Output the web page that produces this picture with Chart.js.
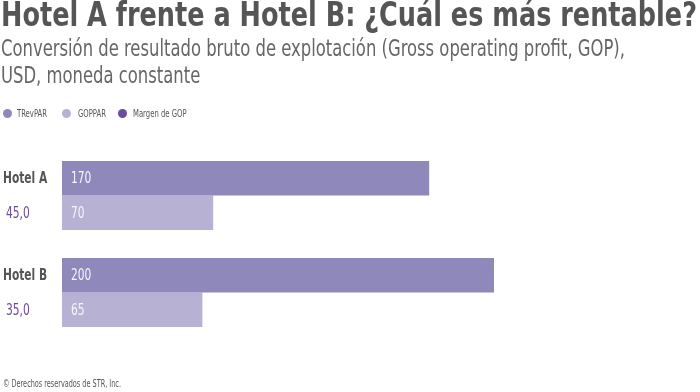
<!DOCTYPE html>
<html>
<head>
<meta charset="utf-8">
<script src="https://cdn.jsdelivr.net/npm/chart.js@4"></script>
<style>
  body { margin: 0; background: #fff; font-family: "DejaVu Sans Condensed", sans-serif; }
  #wrap { position: relative; width: 700px; height: 392px; overflow: hidden; }
  .txt { position: absolute; white-space: nowrap; transform-origin: 0 0; }
  #title { left: 1px; top: -6px; font-size: 34px; font-weight: bold; color: #555; }
  .sub { left: 1px; font-size: 23px; color: #666; }
  #sub1 { top: 35px; }
  #sub2 { top: 62px; }
  .leg { top: 108px; font-size: 10px; color: #555; }
  .dot { position: absolute; top: 109px; width: 9px; height: 9px; border-radius: 50%; }
  #foot { left: 3px; top: 378px; font-size: 10px; color: #555; }
  canvas { position: absolute; left: 0; top: 0; }
</style>
</head>
<body>
<div id="wrap">
  <canvas id="hotelChart" width="700" height="392"></canvas>
  <div id="title" class="txt" data-w="696">Hotel A frente a Hotel B: ¿Cuál es más rentable?</div>
  <div id="sub1" class="txt sub" data-w="624">Conversión de resultado bruto de explotación (Gross operating profit, GOP),</div>
  <div id="sub2" class="txt sub" data-s="sub1">USD, moneda constante</div>
  <div class="dot" style="left:3px;background:#8f88ba"></div>
  <div id="leg1" class="txt leg" style="left:17px" data-w="30">TRevPAR</div>
  <div class="dot" style="left:62px;background:#b7b2d3"></div>
  <div id="leg2" class="txt leg" style="left:78px" data-s="leg1">GOPPAR</div>
  <div class="dot" style="left:118px;background:#6b4c9a"></div>
  <div id="leg3" class="txt leg" style="left:133px" data-s="leg1">Margen de GOP</div>
  <div id="foot" class="txt" data-w="118">© Derechos reservados de STR, Inc.</div>
</div>
<script>
  var hotels = ['Hotel A', 'Hotel B'];
  var trevpar = [170, 200];
  var goppar = [70, 65];
  var margen = ['45,0', '35,0'];

  var fontFam = '"DejaVu Sans Condensed", sans-serif';
  var squeeze = 0.74;

  // squeeze the html texts to the narrow look of the original
  var scales = {};
  document.querySelectorAll('.txt').forEach(function(el) {
    var s;
    if (el.dataset.w) {
      s = el.dataset.w / el.getBoundingClientRect().width;
    } else {
      s = scales[el.dataset.s];
    }
    scales[el.id] = s;
    el.style.transform = 'scaleX(' + s + ')';
  });

  function narrowText(ctx, text, x, y) {
    ctx.save();
    ctx.translate(x, y);
    ctx.scale(squeeze, 1);
    ctx.fillText(text, 0, 0);
    ctx.restore();
  }

  // labels inside the bars and the hotel / margin text on the left
  var labelsPlugin = {
    id: 'labels',
    afterDatasetsDraw: function(chart) {
      var ctx = chart.ctx;
      ctx.save();
      ctx.textBaseline = 'middle';
      ctx.textAlign = 'left';
      chart.data.datasets.forEach(function(ds, i) {
        chart.getDatasetMeta(i).data.forEach(function(bar, j) {
          ctx.font = '16px ' + fontFam;
          ctx.fillStyle = '#f6f4fb';
          narrowText(ctx, ds.data[j], bar.base + 9, bar.y + 1);
          if (i === 0) {
            ctx.font = 'bold 16px ' + fontFam;
            ctx.fillStyle = '#555';
            narrowText(ctx, hotels[j], 3, bar.y + 1);
          } else {
            ctx.font = '16px ' + fontFam;
            ctx.fillStyle = '#6b4c9a';
            narrowText(ctx, margen[j], 6, bar.y + 1);
          }
        });
      });
      ctx.restore();
    }
  };

  var ctxHotel = document.getElementById('hotelChart').getContext('2d');
  var hotelChart = new Chart(ctxHotel, {
    type: 'bar',
    data: {
      labels: hotels,
      datasets: [
        {
          label: 'TRevPAR',
          data: trevpar,
          backgroundColor: '#8f88ba',
          categoryPercentage: 0.71,
          barPercentage: 1
        },
        {
          label: 'GOPPAR',
          data: goppar,
          backgroundColor: '#b7b2d3',
          categoryPercentage: 0.71,
          barPercentage: 1
        }
      ]
    },
    options: {
      indexAxis: 'y',
      responsive: false,
      animation: false,
      layout: {
        padding: { left: 62, right: 44, top: 147, bottom: 51 }
      },
      scales: {
        x: { min: 0, max: 275, display: false, grid: { display: false } },
        y: { display: false, grid: { display: false } }
      },
      plugins: {
        legend: { display: false },
        tooltip: { enabled: false }
      }
    },
    plugins: [labelsPlugin]
  });
</script>
</body>
</html>
